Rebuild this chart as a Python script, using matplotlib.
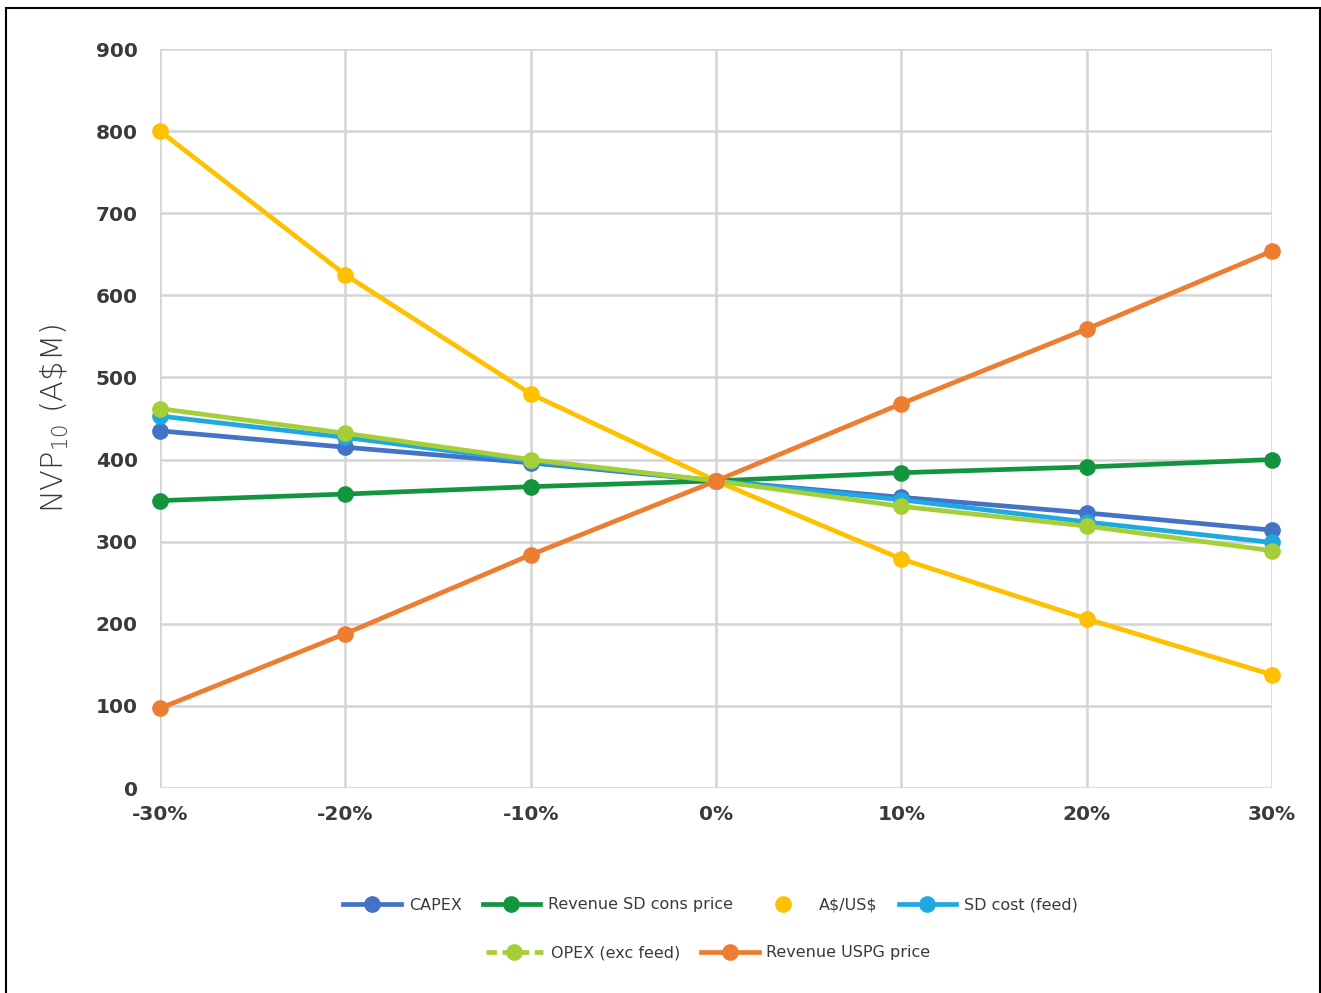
import matplotlib.pyplot as plt
from matplotlib.lines import Line2D
from matplotlib.patches import Rectangle
from matplotlib.ticker import FuncFormatter

# sensitivity steps (fraction change)
steps = [-0.30, -0.20, -0.10, 0.0, 0.10, 0.20, 0.30]

capex = [435, 415, 396, 374, 354, 335, 314]
rev_sd = [350, 358, 367, 374, 384, 391, 400]
fx = [800, 625, 480, 374, 279, 206, 138]
sd_cost = [453, 427, 398, 374, 351, 324, 299]
opex = [462, 432, 400, 374, 343, 319, 289]
rev_uspg = [97, 188, 284, 374, 468, 559, 654]

series_names = ["CAPEX", "Revenue SD cons price", r"A\$/US\$", "SD cost (feed)",
                "OPEX (exc feed)", "Revenue USPG price"]
series_vals = [capex, rev_sd, fx, sd_cost, opex, rev_uspg]
colors = ["#4472C4", "#139540", "#FFC000", "#1FA9E1", "#A6CE39", "#ED7D31"]

GRID = "#d4d4d4"
TXT = "#3a3a3a"

fig = plt.figure(figsize=(13.21, 9.93), dpi=100)
ax = fig.add_axes([160 / 1321, 1 - 788 / 993, (1272 - 160) / 1321, (788 - 49) / 993])

lw = 3.4
ms = 11
for name, vals, c in zip(series_names, series_vals, colors):
    ax.plot(steps, vals, color=c, linewidth=lw, marker="o", markersize=ms,
            solid_capstyle="round", label=name, zorder=3, clip_on=False)

ax.set_xlim(-0.30, 0.30)
ax.set_ylim(0, 900)
ax.set_xticks(steps)
ax.set_yticks(range(0, 901, 100))
ax.xaxis.set_major_formatter(FuncFormatter(lambda v, p: f"{v * 100:.0f}%"))
ax.grid(True, color=GRID, linewidth=1.8, zorder=0)
for s in ax.spines.values():
    s.set_visible(False)
ax.tick_params(length=0, labelsize=14.5, colors=TXT, pad=16)
ax.tick_params(axis="x", pad=12)
for lab in ax.get_xticklabels() + ax.get_yticklabels():
    lab.set_fontweight("bold")

ax.set_ylabel(r"NVP$_{\mathregular{10}}$ (A\$M)", fontsize=22, color=TXT,
              fontweight="light", labelpad=18)

# legend, two centred rows
handles = []
for name, c in zip(series_names, colors):
    if name.startswith("A"):
        h = Line2D([0], [0], color=c, linestyle="None", marker="o", markersize=ms)
    elif name.startswith("OPEX"):
        h = Line2D([0], [0], color=c, linewidth=lw, linestyle=(0, (2.2, 1.2)),
                   marker="o", markersize=ms)
    else:
        h = Line2D([0], [0], color=c, linewidth=lw, marker="o", markersize=ms)
    handles.append(h)

leg_kw = dict(frameon=False, fontsize=11.5, handlelength=3.6, handletextpad=0.5,
              columnspacing=1.3, labelcolor=TXT)
fig.legend(handles[:4], series_names[:4], loc="center", ncol=4,
           bbox_to_anchor=(0.538, 1 - 905 / 993), **leg_kw)
fig.legend(handles[4:], series_names[4:], loc="center", ncol=2,
           bbox_to_anchor=(0.536, 1 - 953 / 993), **leg_kw)

# outer frame
fig.patches.append(Rectangle((6 / 1321, -0.02), (1320 - 6) / 1321, 1.02 - 8 / 993,
                             transform=fig.transFigure, fill=False,
                             edgecolor="black", linewidth=1.5))

fig.savefig("out.png", dpi=100)
